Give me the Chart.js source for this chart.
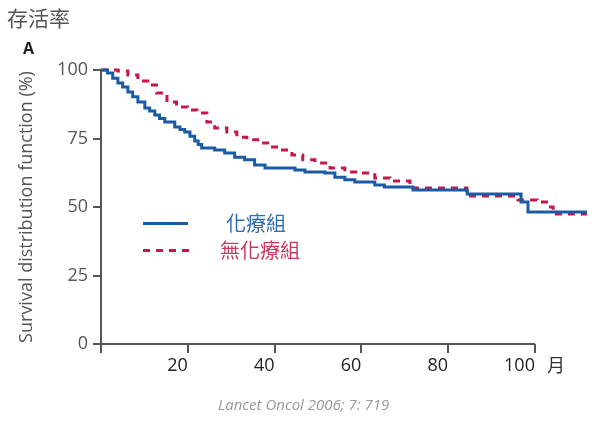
<!DOCTYPE html>
<html>
<head>
<meta charset="utf-8">
<script src="https://cdn.jsdelivr.net/npm/chart.js@4"></script>
<style>
body { margin: 0; background: #fff; }
#wrap { position: relative; width: 600px; height: 421px; font-family: "Open Sans", sans-serif; }
#wrap canvas { position: absolute; left: 0; top: 0; }
.lbl { position: absolute; white-space: nowrap; }
</style>
</head>
<body>
<div id="wrap">
  <canvas id="myChart" width="600" height="421"></canvas>
  <div class="lbl" style="left:7px;top:7px;font-size:21px;line-height:21px;font-family:'Noto Sans CJK TC';color:#555">存活率</div>
  <div class="lbl" style="left:23px;top:40px;font-size:16px;line-height:16px;font-weight:bold;color:#222">A</div>
  <div class="lbl" style="left:547px;top:355px;font-size:18px;line-height:18px;font-family:'Noto Sans CJK TC';color:#333">月</div>
  <div class="lbl" style="left:143px;top:222px;width:45px;height:3px;background:#1a5ba6"></div>
  <div class="lbl" style="left:226px;top:213px;font-size:20px;line-height:20px;font-family:'Noto Sans CJK TC';color:#2e6db4">化療組</div>
  <div class="lbl" style="left:143px;top:249px;width:46px;height:3px;background:repeating-linear-gradient(to right,#c6174c 0 7px,transparent 7px 13px)"></div>
  <div class="lbl" style="left:220px;top:240px;font-size:20px;line-height:20px;font-family:'Noto Sans CJK TC';color:#c73a5f">無化療組</div>
  <div class="lbl" style="left:218px;top:397px;font-size:15px;line-height:15px;font-style:italic;color:#999">Lancet Oncol 2006; 7: 719</div>
</div>
<script>
// chemo group (blue, solid)
const chemoMonths = [0, 1.5, 2.7, 3.9, 5.0, 6.2, 7.3, 8.5, 10.1, 11.2, 12.4, 13.5, 14.7, 17.0, 18.2, 19.3, 20.5, 21.6, 22.4, 23.2,
  26.2, 28.5, 30.8, 33.1, 35.4, 37.8, 44.7, 47.0, 51.6, 53.9, 56.2, 58.5, 63.1, 65.3, 71.9, 84.4, 96.8, 98.4, 112];
const chemoSurv = [100, 98.9, 97.0, 95.3, 93.8, 92.0, 90.2, 88.3, 86.1, 85.0, 83.6, 82.3, 81.0, 79.2, 78.3, 77.4, 75.8, 74.1, 72.8, 71.5,
  70.8, 69.7, 68.2, 67.2, 65.3, 64.2, 63.5, 62.8, 62.4, 60.9, 59.9, 59.1, 58.0, 57.3, 56.2, 54.7, 51.8, 48.2, 48.2];

// no chemo group (red, dashed)
const noChemoMonths = [0, 3.9, 6.2, 8.5, 10.8, 12.8, 15.2, 17.4, 20.0, 22.1, 24.4, 26.2, 29.0, 31.3, 33.6, 36.1, 38.4, 41.2, 44.0,
  46.5, 49.3, 52.8, 56.2, 59.7, 63.1, 66.6, 71.2, 84.3, 96.1, 100.5, 103.0, 104.2, 112];
const noChemoSurv = [100, 99.6, 98.2, 96.0, 94.5, 91.6, 88.3, 86.5, 85.4, 84.3, 81.0, 78.8, 77.4, 75.5, 74.5, 73.4, 71.9, 70.8, 69.0,
  67.2, 66.1, 64.2, 62.8, 62.4, 60.6, 59.5, 56.9, 54.0, 52.6, 51.8, 50.0, 47.4, 47.4];

const xTicks = [0, 20, 40, 60, 80, 100];
const yTicks = [0, 25, 50, 75, 100];

function toPoints(xs, ys) {
    let pts = [];
    for (let i = 0; i < xs.length; i++) {
        pts.push({x: xs[i], y: ys[i]});
    }
    return pts;
}

// x axis line stops at 100 months
const xAxisLine = {
    id: 'xAxisLine',
    beforeDatasetsDraw(chart) {
        const ctx = chart.ctx;
        const x = chart.scales.x;
        const y = chart.scales.y;
        ctx.save();
        ctx.strokeStyle = '#555';
        ctx.lineWidth = 2;
        ctx.beginPath();
        ctx.moveTo(x.getPixelForValue(0), y.getPixelForValue(0));
        ctx.lineTo(x.getPixelForValue(xTicks[xTicks.length - 1]), y.getPixelForValue(0));
        ctx.stroke();
        ctx.restore();
    }
};

let ctx = document.getElementById('myChart').getContext('2d');

let myChart = new Chart(ctx, {
    type: 'line',
    data: {
        datasets: [{
            label: '化療組',
            data: toPoints(chemoMonths, chemoSurv),
            borderColor: '#1a5ba6',
            borderWidth: 3,
            stepped: true,
            pointRadius: 0,
            fill: false,
            clip: false
        }, {
            label: '無化療組',
            data: toPoints(noChemoMonths, noChemoSurv),
            borderColor: '#c6174c',
            borderWidth: 3,
            borderDash: [7, 6],
            stepped: true,
            pointRadius: 0,
            fill: false,
            clip: false
        }]
    },
    options: {
        responsive: false,
        animation: false,
        layout: { padding: { left: 0, top: 70, right: 13, bottom: 37 } },
        plugins: { legend: { display: false }, tooltip: { enabled: false } },
        scales: {
            x: {
                type: 'linear',
                min: 0,
                max: 112,
                afterBuildTicks: (scale) => { scale.ticks = xTicks.map(v => ({value: v})); },
                afterFit: (scale) => { scale.height = 40; },
                border: { display: false },
                grid: { drawOnChartArea: false, drawTicks: true, tickLength: 9, color: '#555', lineWidth: 2 },
                ticks: {
                    autoSkip: false,
                    maxRotation: 0,
                    align: 'end',
                    padding: 2,
                    color: '#222',
                    font: { family: 'Open Sans', size: 18 },
                    callback: (v) => v === 0 ? '' : v
                }
            },
            y: {
                min: 0,
                max: 100,
                afterBuildTicks: (scale) => { scale.ticks = yTicks.map(v => ({value: v})); },
                afterFit: (scale) => { scale.width = 101; },
                border: { display: true, color: '#555', width: 2 },
                grid: { drawOnChartArea: false, drawTicks: true, tickLength: 8, color: '#555', lineWidth: 2 },
                ticks: {
                    padding: 5,
                    color: '#555',
                    font: { family: 'Open Sans', size: 18 }
                },
                title: {
                    display: true,
                    text: 'Survival distribution function (%)',
                    color: '#555',
                    font: { family: 'Open Sans', size: 18 },
                    padding: { top: 16, bottom: 0 }
                }
            }
        }
    },
    plugins: [xAxisLine]
});
</script>
</body>
</html>
